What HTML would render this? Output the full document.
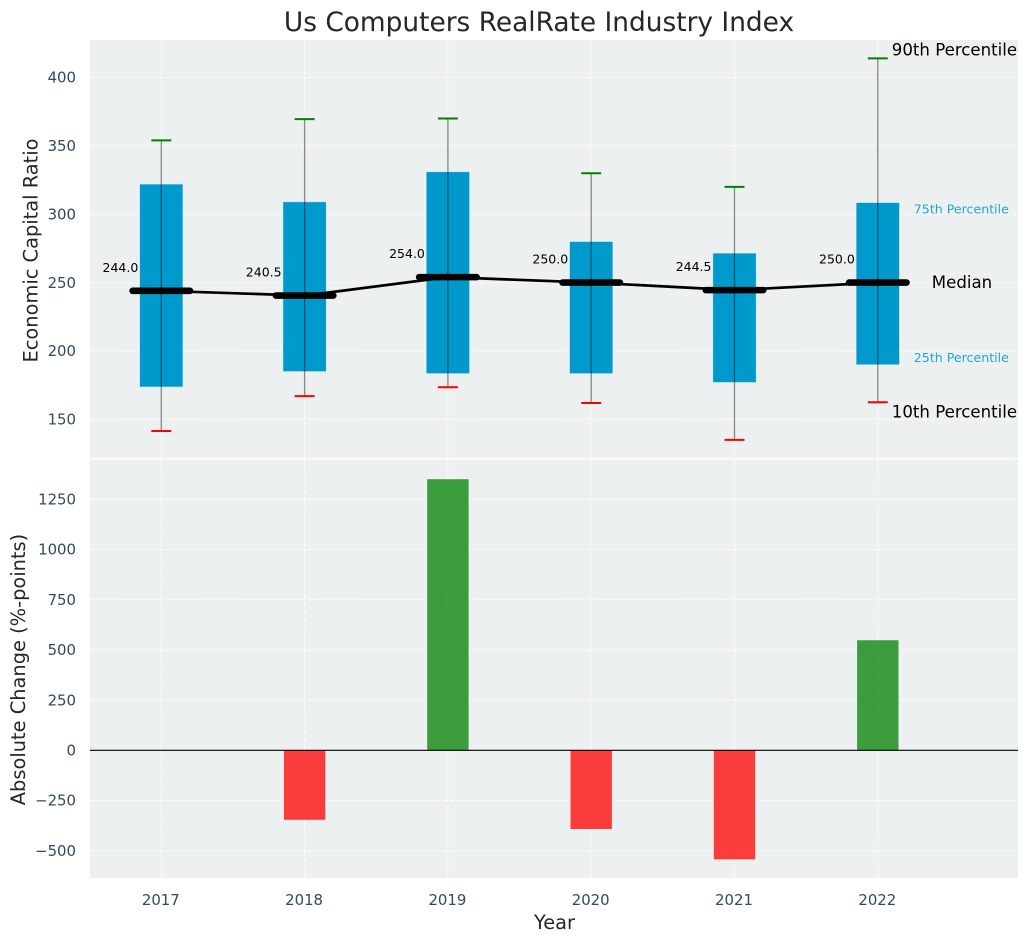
<!DOCTYPE html>
<html>
<head>
<meta charset="utf-8">
<title>Us Computers RealRate Industry Index</title>
<style>
html,body{margin:0;padding:0;background:#fff;width:1029px;height:942px;overflow:hidden}
svg{display:block;font-family:"DejaVu Sans","Liberation Sans",sans-serif}
</style>
</head>
<body>
<svg id="chart" xmlns="http://www.w3.org/2000/svg" width="1029" height="942" viewBox="0 0 1029 942">
<text x="539" y="31" text-anchor="middle" font-size="26.4px" fill="#262626">Us Computers RealRate Industry Index</text>
<rect x="90" y="40" width="928" height="417.8" fill="#ecf0f1"/>
<rect x="90" y="459.6" width="928" height="418.4" fill="#ecf0f1"/>
<text transform="translate(37.5,250.5) rotate(-90)" text-anchor="middle" font-size="19.4px" fill="#262626">Economic Capital Ratio</text>
<text transform="translate(25,669.5) rotate(-90)" text-anchor="middle" font-size="19.4px" fill="#262626">Absolute Change (%-points)</text>
<text x="554.5" y="929" text-anchor="middle" font-size="19.4px" fill="#262626">Year</text>
<g id="top-grid"></g>
<g id="bottom-grid"></g>
<g id="bars"></g>
<g id="boxes"></g>
<g id="labels"></g>
</svg>
<script>
const years = [2017, 2018, 2019, 2020, 2021, 2022];
const p90 = [354, 369.5, 370, 330, 320, 414];
const p75 = [322, 309, 331, 280, 271.5, 308.5];
const medians = [244, 240.5, 254, 250, 244.5, 250];
const p25 = [173.7, 185, 183.5, 183.5, 177, 190];
const p10 = [141.5, 167, 173.5, 162, 135, 162.5];
const changes = [0, -346, 1350, -392, -543, 548];
const topTicks = [150, 200, 250, 300, 350, 400];
const bottomTicks = [-500, -250, 0, 250, 500, 750, 1000, 1250];

const NS = 'http://www.w3.org/2000/svg';
const xScale = function (year) { return 161.3 + (year - 2017) * 143.3; };
const yTop = function (v) { return 282.6 - (v - 250) * 1.3675; };
const yBottom = function (v) { return 750.3 - v * 0.2008; };

function make(tag, attrs, parent, content) {
  const el = document.createElementNS(NS, tag);
  Object.keys(attrs).forEach(function (k) { el.setAttribute(k, attrs[k]); });
  if (content !== undefined) el.textContent = content;
  parent.appendChild(el);
  return el;
}
function fmt(v) { return (v < 0 ? '\u2212' + Math.abs(v) : String(v)); }

const topGrid = document.getElementById('top-grid');
const bottomGrid = document.getElementById('bottom-grid');
const barsG = document.getElementById('bars');
const boxesG = document.getElementById('boxes');
const labelsG = document.getElementById('labels');
const dash = { stroke: '#ffffff', 'stroke-width': 1, 'stroke-dasharray': '5 2.5', opacity: 0.85 };

topTicks.forEach(function (t) {
  const y = yTop(t);
  const line = make('line', Object.assign({ x1: 90, x2: 1018, y1: y, y2: y }, dash), topGrid);
  
  
  const label = make('text', { x: 76, y: y + 5.2, 'text-anchor': 'end', 'font-size': '14.9px', fill: '#34495e' }, topGrid, fmt(t));
  
  
});
bottomTicks.forEach(function (t) {
  const y = yBottom(t);
  const line = make('line', Object.assign({ x1: 90, x2: 1018, y1: y, y2: y }, dash), bottomGrid);
  
  
  const label = make('text', { x: 76, y: y + 5.2, 'text-anchor': 'end', 'font-size': '14.9px', fill: '#34495e' }, bottomGrid, fmt(t));
  
  
});
years.forEach(function (yr) {
  const x = xScale(yr);
  const l1 = make('line', Object.assign({ x1: x, x2: x, y1: 40, y2: 457.8 }, dash), topGrid);
  
  
  const l2 = make('line', Object.assign({ x1: x, x2: x, y1: 459.6, y2: 878 }, dash), bottomGrid);
  
  
  const label = make('text', { x: x - 0.5, y: 905, 'text-anchor': 'middle', 'font-size': '14.9px', fill: '#34495e' }, bottomGrid, String(yr));
  
  
});

years.forEach(function (yr, i) {
  const x = xScale(yr);
  const v = changes[i];
  if (v === 0) return;
  const y0 = yBottom(0);
  const y1 = yBottom(v);
  const bar = make('rect', {
    x: x - 20.7, width: 41.4, y: Math.min(y0, y1), height: Math.abs(y1 - y0),
    fill: v > 0 ? '#008000' : '#ff0000', 'fill-opacity': 0.75
  }, barsG);
  
  
});
const zero = make('line', { x1: 90, x2: 1018, y1: yBottom(0), y2: yBottom(0), stroke: '#000', 'stroke-width': 1.2 }, barsG);



years.forEach(function (yr, i) {
  const x = xScale(yr);
  const box = make('rect', {
    x: x - 21.6, width: 43.2, y: yTop(p75[i]), height: yTop(p25[i]) - yTop(p75[i]),
    fill: '#0099cc', stroke: '#c5e3ee', 'stroke-width': 0.5
  }, boxesG);
  
  
  const whisker = make('line', { x1: x, x2: x, y1: yTop(p90[i]), y2: yTop(p10[i]), stroke: '#000', 'stroke-opacity': 0.45, 'stroke-width': 1.3 }, boxesG);
  
  
  const capHigh = make('line', { x1: x - 10, x2: x + 10, y1: yTop(p90[i]), y2: yTop(p90[i]), stroke: '#008000', 'stroke-width': 2 }, boxesG);
  
  
  const capLow = make('line', { x1: x - 10, x2: x + 10, y1: yTop(p10[i]), y2: yTop(p10[i]), stroke: '#ff0000', 'stroke-width': 2 }, boxesG);
  
  
});

const medianPath = medians.map(function (m, i) {
  return (i ? 'L' : 'M') + xScale(years[i]).toFixed(2) + ' ' + yTop(m).toFixed(2);
}).join(' ');
const medianLine = make('path', { d: medianPath, fill: 'none', stroke: '#000', 'stroke-width': 2.7 }, boxesG);



years.forEach(function (yr, i) {
  const x = xScale(yr);
  const y = yTop(medians[i]);
  const bar = make('line', { x1: x - 28.7, x2: x + 28.7, y1: y, y2: y, stroke: '#000', 'stroke-width': 6.6, 'stroke-linecap': 'round' }, boxesG);
  
  
  const label = make('text', { x: x - 23, y: y - 19, 'text-anchor': 'end', 'font-size': '12.5px', fill: '#000' }, labelsG, medians[i].toFixed(1));
  
  
});

const last = years.length - 1;
const lastX = xScale(years[last]);
const t90 = make('text', { x: lastX + 14, y: yTop(p90[last]) - 3, 'font-size': '16.6px', fill: '#000' }, labelsG, '90th Percentile');


const t75 = make('text', { x: lastX + 36, y: yTop(p75[last]) + 11, 'font-size': '12.6px', fill: '#0099cc', 'fill-opacity': 0.85 }, labelsG, '75th Percentile');


const tMed = make('text', { x: lastX + 54, y: yTop(medians[last]) + 5.5, 'font-size': '16.6px', fill: '#000' }, labelsG, 'Median');


const t25 = make('text', { x: lastX + 36, y: yTop(p25[last]) - 2.5, 'font-size': '12.6px', fill: '#0099cc', 'fill-opacity': 0.85 }, labelsG, '25th Percentile');


const t10 = make('text', { x: lastX + 14, y: yTop(p10[last]) + 15, 'font-size': '16.6px', fill: '#000' }, labelsG, '10th Percentile');


</script>
</body>
</html>
